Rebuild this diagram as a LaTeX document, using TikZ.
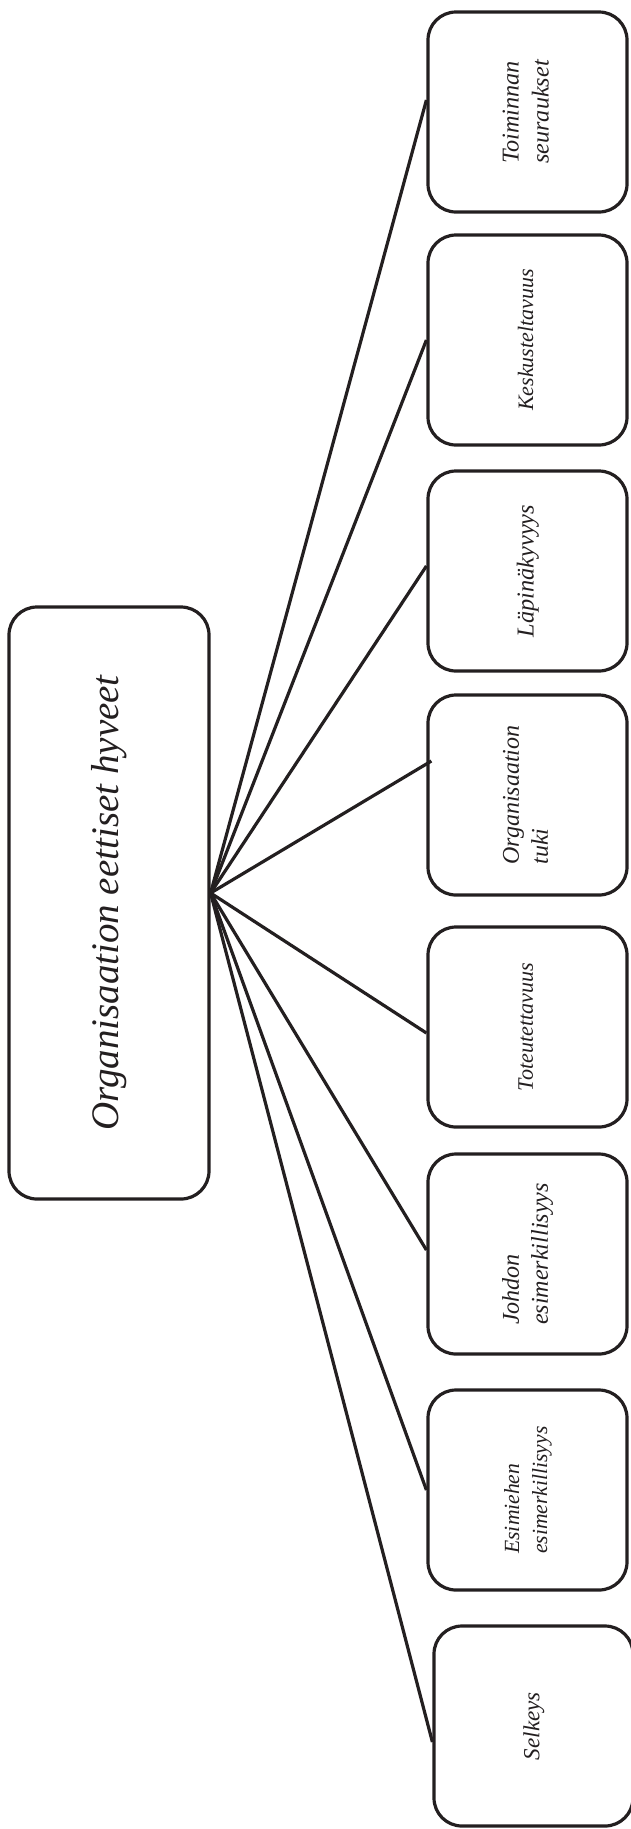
\documentclass[tikz,border=0pt]{standalone}
\usepackage{fontspec}
\setmainfont{Liberation Serif}
\usetikzlibrary{positioning,calc}
\definecolor{inkgray}{HTML}{231F20}
% rotated italic label: size, baselineskip, lines
\newcommand{\vlabel}[3]{\rotatebox{90}{\fontsize{#1}{#2}\selectfont\itshape\begin{tabular}{@{}l@{}}#3\end{tabular}}}

\begin{document}
\begin{tikzpicture}[x=1pt,y=-1pt,
    hyve/.style={draw=inkgray,line width=3.2pt,rounded corners=28pt,minimum width=199pt,minimum height=200pt,inner sep=0pt,text=inkgray},
    juuri/.style={hyve,minimum width=200pt,minimum height=592pt},
    haara/.style={draw=inkgray,line width=3.2pt}]
    \useasboundingbox (0,0) rectangle (631,1829);

    % Root
    \node[juuri] (juuri) at (109,903) {\vlabel{39}{46}{Organisaation eettiset hyveet}};
    \coordinate (hub) at ([yshift=10pt]juuri.east);

    % Virtues, top to bottom
    \node[hyve] (seuraukset) at (527.5,112) {\vlabel{24.2}{30}{Toiminnan\\seuraukset}};
    \node[hyve,minimum height=210pt] (keskustelu) at (527.5,340) {\vlabel{22}{28}{Keskusteltavuus}};
    \node[hyve] (lapinakyvyys) at (527.5,571) {\vlabel{24.3}{30}{Läpinäkyvyys}};
    \node[hyve] (tuki) at (527.5,795) {\vlabel{24}{29}{Organisaation\\tuki}};
    \node[hyve] (toteutus) at (527.5,1027) {\vlabel{22.1}{27}{Toteutettavuus}};
    \node[hyve] (johto) at (527.5,1254) {\vlabel{24.1}{29}{Johdon\\esimerkillisyys}};
    \node[hyve] (esimies) at (527.5,1490) {\vlabel{21.6}{28}{Esimiehen\\esimerkillisyys}};
    \node[hyve] (selkeys) at (533.5,1726) {\vlabel{23.1}{29}{Selkeys}};

    % Branches from the root
    \draw[haara] (hub) -- ([yshift=12pt]seuraukset.west);
    \draw[haara] (hub) -- (keskustelu.west);
    \draw[haara] (hub) -- ([yshift=5pt]lapinakyvyys.west);
    \draw[haara] (hub) -- ([xshift=5pt,yshift=34pt]tuki.west);
    \draw[haara] (hub) -- ([yshift=-6pt]toteutus.west);
    \draw[haara] (hub) -- ([yshift=4pt]johto.west);
    \draw[haara] (hub) -- (esimies.west);
    \draw[haara] (hub) -- ([yshift=-16pt]selkeys.west);
\end{tikzpicture}
\end{document}
